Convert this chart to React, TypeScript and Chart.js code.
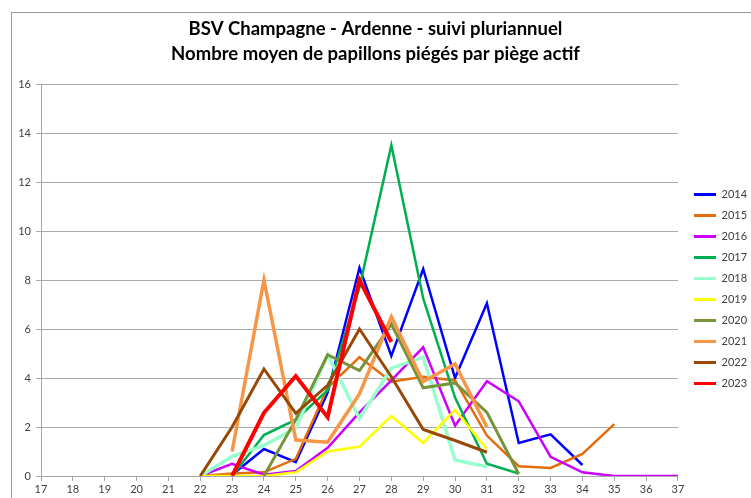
import React, { useEffect, useRef } from "react";
import { Chart, registerables } from "chart.js";

Chart.register(...registerables);

const weeks = ["17","18","19","20","21","22","23","24","25","26","27","28","29","30","31","32","33","34","35","36","37"];
const years = ["2014","2015","2016","2017","2018","2019","2020","2021","2022","2023"];

const _ = null;
//            17 18 19 20 21  22    23    24    25    26    27    28    29    30    31    32    33    34    35    36  37
const s2014 = [_, _, _, _, _, _,    0.05, 1.1,  0.57, 3.4,  8.5,  4.9,  8.45, 4.0,  7.05, 1.35, 1.7,  0.45, _,    _,  _];
const s2015 = [_, _, _, _, _, 0,    0.1,  0.15, 0.7,  3.6,  4.85, 3.85, 4.05, 3.9,  1.65, 0.4,  0.33, 0.9,  2.12, _,  _];
const s2016 = [_, _, _, _, _, 0,    0.5,  0.05, 0.2,  1.15, 2.6,  3.9,  5.25, 2.05, 3.87, 3.05, 0.78, 0.15, 0,    0,  0];
const s2017 = [_, _, _, _, _, _,    0,    1.67, 2.3,  3.5,  7.7,  13.5, 7.25, 3.2,  0.5,  0.1,  _,    _,    _,    _,  _];
const s2018 = [_, _, _, _, _, 0,    0.8,  1.25, 1.95, 4.95, 2.35, 4.4,  4.85, 0.65, 0.38, _,    _,    _,    _,    _,  _];
const s2019 = [_, _, _, _, _, 0,    0,    0,    0.15, 1.0,  1.2,  2.45, 1.35, 2.7,  1.1,  _,    _,    _,    _,    _,  _];
const s2020 = [_, _, _, _, _, _,    _,    0,    2.3,  4.95, 4.3,  6.2,  3.6,  3.8,  2.6,  0.08, _,    _,    _,    _,  _];
const s2021 = [_, _, _, _, _, _,    1.0,  8.0,  1.47, 1.38, 3.35, 6.5,  3.85, 4.57, 2.0,  _,    _,    _,    _,    _,  _];
const s2022 = [_, _, _, _, _, 0,    2.0,  4.37, 2.56, 3.7,  6.0,  4.05, 1.9,  1.45, 0.97, _,    _,    _,    _,    _,  _];
const s2023 = [_, _, _, _, _, _,    0,    2.58, 4.08, 2.4,  8.0,  5.47, _,    _,    _,    _,    _,    _,    _,    _,  _];

const series = [s2014, s2015, s2016, s2017, s2018, s2019, s2020, s2021, s2022, s2023];
const colors = ["#0000FF","#E46C0A","#CC00FF","#00B050","#99FFCC","#FFFF00","#77933C","#F79646","#974806","#FF0000"];
const widths = [2.5, 2.5, 2.5, 2.5, 3.5, 2.5, 3, 3.5, 3, 4];

const titleLines = ["BSV Champagne - Ardenne - suivi pluriannuel", "Nombre moyen de papillons piégés par piège actif"];
const yTicks = [0, 2, 4, 6, 8, 10, 12, 14, 16];

const FONT = "Lato, 'Open Sans', sans-serif";

const legendShift = {
  id: "legendShift",
  afterLayout(chart: any) {
    const l = chart.legend;
    if (!l) return;
    const dx = 684 - l.left;
    const dy = 40;
    l.left += dx;
    l.right += dx;
    l.top += dy;
    l.bottom += dy;
  },
};

export default function App() {
  const ref = useRef<HTMLCanvasElement | null>(null);
  useEffect(() => {
    if (!ref.current) return;
    const chart = new Chart(ref.current, {
      type: "line",
      data: {
        labels: weeks,
        datasets: years.map((y, i) => ({
          label: y,
          data: series[i],
          borderColor: colors[i],
          backgroundColor: colors[i],
          borderWidth: widths[i],
          pointRadius: 0,
          pointHoverRadius: 0,
          tension: 0,
          spanGaps: false,
          order: years.length - i,
        })),
      },
      plugins: [legendShift],
      options: {
        animation: false,
        responsive: false,
        maintainAspectRatio: false,
        layout: { padding: { left: 0, right: 0, top: 0, bottom: 0 } },
        plugins: {
          tooltip: { enabled: false },
          title: {
            display: true,
            text: titleLines,
            color: "#000000",
            font: { family: FONT, size: 18.5, weight: "bold", lineHeight: 25 / 18.5 },
            padding: { top: 17, bottom: 17 },
          },
          legend: {
            display: true,
            position: "right",
            align: "center",
            labels: {
              color: "#404040",
              font: { family: FONT, size: 11 },
              boxWidth: 22,
              boxHeight: 3,
              padding: 10,
              generateLabels: (c: any) =>
                c.data.datasets.map((d: any, i: number) => ({
                  text: d.label,
                  fillStyle: d.borderColor,
                  strokeStyle: d.borderColor,
                  lineWidth: 0,
                  hidden: false,
                  datasetIndex: i,
                  fontColor: "#404040",
                })),
            },
          },
        },
        scales: {
          x: {
            type: "category",
            offset: false,
            afterFit: (s: any) => { s.height = 22; },
            grid: { display: true, drawOnChartArea: false, drawTicks: true, tickLength: 5, color: "#A6A6A6" },
            border: { display: true, color: "#A6A6A6" },
            ticks: { color: "#404040", font: { family: FONT, size: 11 }, padding: 2, maxRotation: 0, autoSkip: false },
          },
          y: {
            min: 0,
            max: 16,
            afterFit: (s: any) => { s.width = 41; },
            afterBuildTicks: (s: any) => { s.ticks = yTicks.map((v) => ({ value: v })); },
            grid: { display: true, drawTicks: true, tickLength: 5, color: "#ABABAB", lineWidth: 1 },
            border: { display: true, color: "#A6A6A6" },
            ticks: { color: "#404040", font: { family: FONT, size: 11 }, padding: 5 },
          },
        },
      },
    });
    return () => chart.destroy();
  }, []);
  return (
    <div style={{ position: "absolute", left: 0, top: 0, width: 751, height: 498, overflow: "hidden", background: "#ffffff" }}>
      <div style={{ position: "absolute", left: 11, top: 12, width: 800, height: 600, border: "1px solid #9a9a9a", boxSizing: "border-box" }} />
      <canvas ref={ref} width={751} height={498} style={{ position: "absolute", left: 0, top: 0, width: 751, height: 498 }} />
    </div>
  );
}
